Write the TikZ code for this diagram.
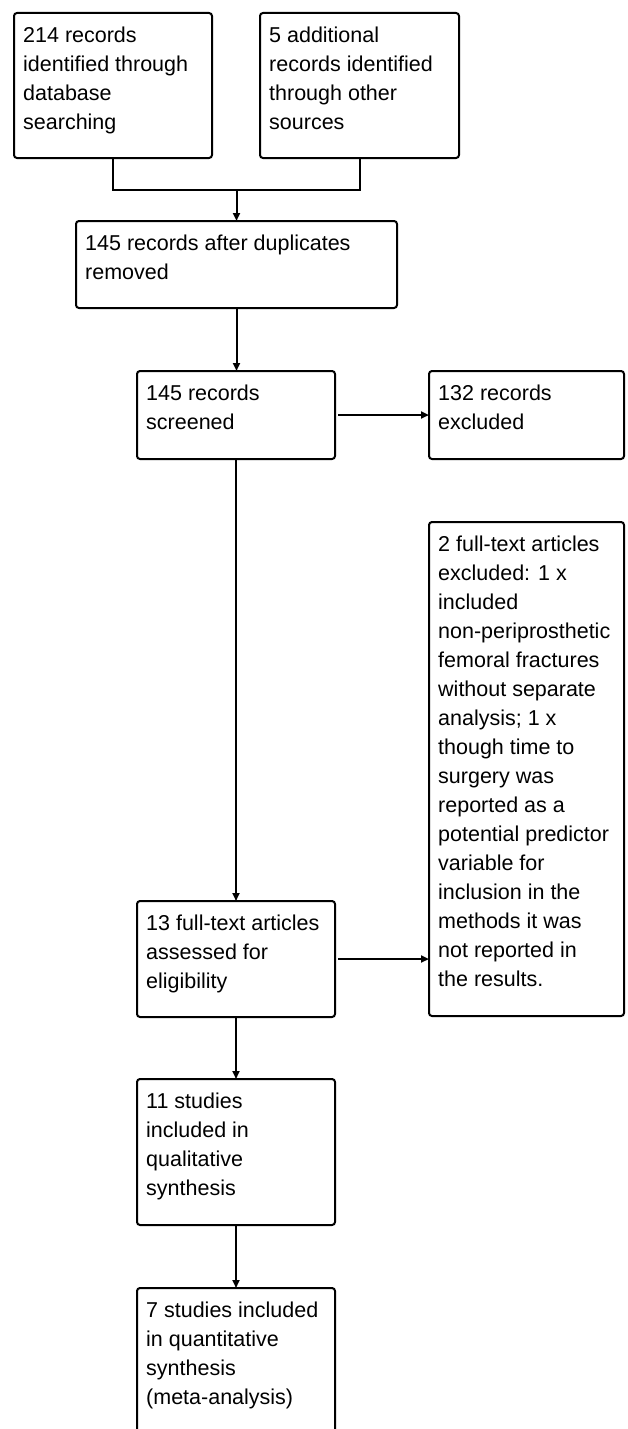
\documentclass[tikz,border=0pt]{standalone}
\usepackage{fontspec}
\setmainfont{Liberation Sans}
\usetikzlibrary{arrows.meta}
\begin{document}
\begin{tikzpicture}[x=1pt,y=-1pt,
  pbox/.style={draw=black, line width=2pt, rounded corners=3pt, inner sep=0pt, outer sep=0pt},
  ptxt/.style={anchor=north west, inner sep=0pt, align=left, font=\fontsize{21.5}{29}\selectfont},
  conn/.style={line width=2pt},
  arr/.style={conn, -{Triangle[length=8pt,width=7pt]}}]
\useasboundingbox (0,0) rectangle (628,1429);
\clip (0,0) rectangle (628,1429);
% boxes
\node[pbox, minimum width=198pt, minimum height=145pt] (A) at (113,85.5) {};
\node[pbox, minimum width=199pt, minimum height=145pt] (B) at (359.5,85.5) {};
\node[pbox, minimum width=321pt, minimum height=87pt] (C) at (236.5,264.5) {};
\node[pbox, minimum width=198pt, minimum height=88pt] (D) at (236,415) {};
\node[pbox, minimum width=195pt, minimum height=88pt] (E) at (526.5,415) {};
\node[pbox, minimum width=195pt, minimum height=494pt] (F) at (526.5,769) {};
\node[pbox, minimum width=198pt, minimum height=116pt] (G) at (236,959) {};
\node[pbox, minimum width=198pt, minimum height=146pt] (H) at (236,1152) {};
\node[pbox, minimum width=198pt, minimum height=172pt] (I) at (236,1374) {};
% texts
\node[ptxt] (tA) at ([shift={(9,14)}]A.north west) {214 records\\identified through\\database\\searching};
\node[ptxt] (tB) at ([shift={(9,14)}]B.north west) {5 additional\\records identified\\through other\\sources};
\node[ptxt] (tC) at ([shift={(9,14)}]C.north west) {145 records after duplicates\\removed};
\node[ptxt] (tD) at ([shift={(9,14)}]D.north west) {145 records\\screened};
\node[ptxt] (tE) at ([shift={(9,14)}]E.north west) {132 records\\excluded};
\node[ptxt] (tF) at ([shift={(9,14)}]F.north west) {2 full-text articles\\excluded: 1 x\\included\\non-periprosthetic\\femoral fractures\\without separate\\analysis; 1 x\\though time to\\surgery was\\reported as a\\potential predictor\\variable for\\inclusion in the\\methods it was\\not reported in\\the results.};
\node[ptxt] (tG) at ([shift={(9,14)}]G.north west) {13 full-text articles\\assessed for\\eligibility};
\node[ptxt] (tH) at ([shift={(9,14)}]H.north west) {11 studies\\included in\\qualitative\\synthesis};
\node[ptxt] (tI) at ([shift={(9,14)}]I.north west) {7 studies included\\in quantitative\\synthesis\\(meta-analysis)};
% connectors
\coordinate (M) at (236.5,190);
\draw[conn] (A.south) |- (M) -| (B.south);
\draw[arr] (M) -- (C.north);
\draw[arr] (C.south) -- (C.south |- D.north);
\draw[arr] ([xshift=3pt]D.east) -- (E.west);
\draw[arr] (D.south) -- (G.north);
\draw[arr] ([xshift=3pt]G.east) -- (G.east -| F.west);
\draw[arr] (G.south) -- (H.north);
\draw[arr] (H.south) -- (I.north);
\end{tikzpicture}
\end{document}
